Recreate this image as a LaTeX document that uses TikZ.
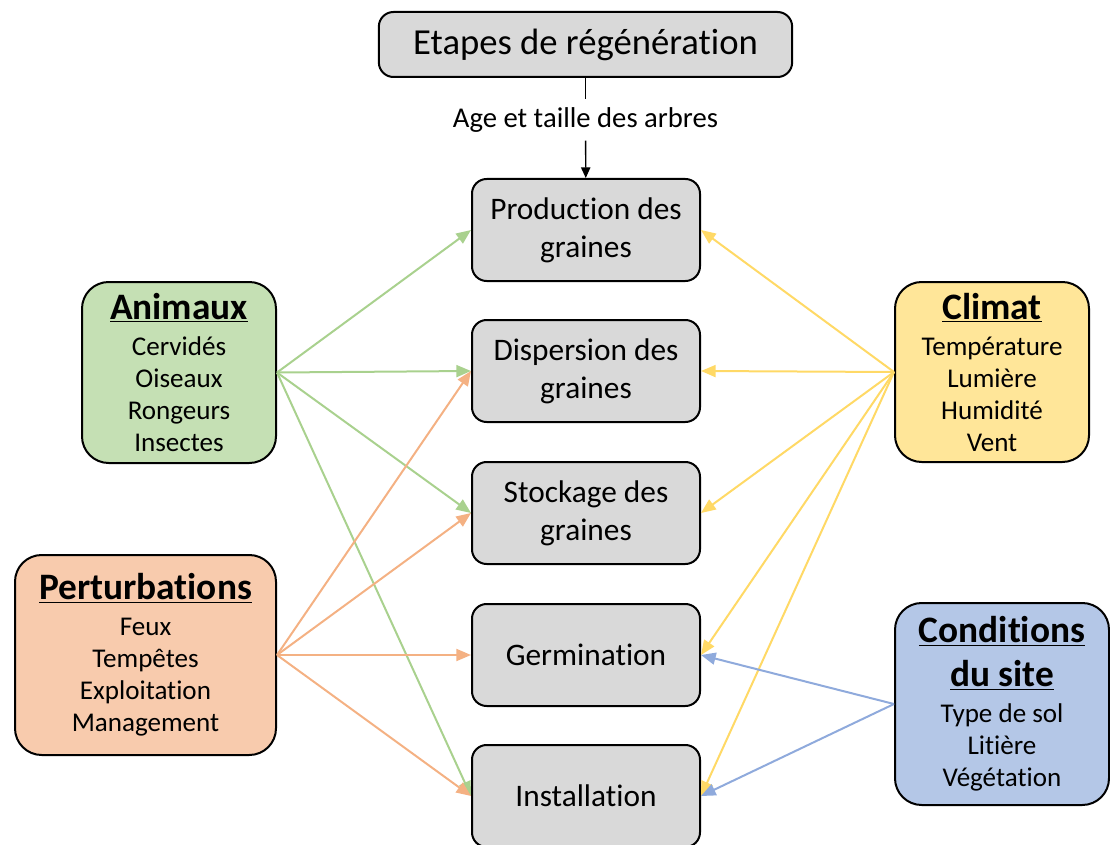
\documentclass[tikz,border=0pt]{standalone}
\usepackage{fontspec}
\setmainfont{Carlito}[Ligatures=NoCommon]
\usetikzlibrary{arrows.meta}
\tikzset{>={Triangle[length=11pt,width=9pt]}}
\definecolor{grisfond}{HTML}{D9D9D9}
\definecolor{vertfond}{HTML}{C5E0B4}
\definecolor{vertfleche}{HTML}{A9D18E}
\definecolor{orangefond}{HTML}{F8CBAD}
\definecolor{orangefleche}{HTML}{F4B183}
\definecolor{jaunefond}{HTML}{FFE699}
\definecolor{jaunefleche}{HTML}{FFD966}
\definecolor{bleufond}{HTML}{B4C7E7}
\definecolor{bleufleche}{HTML}{8FAADC}
\newcommand{\titre}[1]{{\fontsize{28}{30}\selectfont\bfseries\underline{#1}}}
\tikzset{
etape/.style={draw, line width=1.5pt, fill=grisfond, rounded corners=11pt, minimum width=171pt, minimum height=76.5pt, align=center, font=\fontsize{23.5}{28.5}\selectfont},
facteur/.style={draw, line width=1.5pt, rounded corners=20pt, align=center, font=\fontsize{20.3}{24}\selectfont}
}

\begin{document}
\begin{tikzpicture}[x=0.75pt, y=0.75pt]
\useasboundingbox (0,0) rectangle (1110,-845);

% etapes
\node[etape, minimum width=310pt, minimum height=48.75pt, font=\fontsize{27.5}{30}\selectfont] (etapes) at (585.5,-44.5) {Etapes de régénération};
\node[font=\fontsize{21.5}{24}\selectfont, inner ysep=6pt] (age) at (585.5,-120) {Age et taille des arbres};
\node[etape] (prod) at (586,-230) {Production des\\graines};
\node[etape] (disp) at (586,-371) {Dispersion des\\graines};
\node[etape] (stock) at (586,-513) {Stockage des\\graines};
\node[etape] (germ) at (586,-655) {Germination};
\node[etape] (inst) at (586,-796) {Installation};

% facteurs
\node[facteur, fill=vertfond, minimum width=145.5pt, minimum height=135.75pt] (animaux) at (179,-372.5)
{\titre{Animaux}\\[3pt] Cervidés\\ Oiseaux\\ Rongeurs\\ Insectes};
\node[facteur, fill=orangefond, minimum width=195.75pt, minimum height=150pt] (perturb) at (145.5,-655)
{\titre{Perturbations}\\[3pt] Feux\\ Tempêtes\\ Exploitation\\ Management};
\node[facteur, fill=jaunefond, minimum width=145.5pt, minimum height=135pt] (climat) at (992,-372)
{\titre{Climat}\\[3pt] Température\\ Lumière\\ Humidité\\ Vent};
\node[facteur, fill=bleufond, minimum width=160.5pt, minimum height=151.5pt] (site) at (1002,-704)
{\titre{Conditions}\\[9pt] \titre{du site}\\[3pt] Type de sol\\ Litière\\ Végétation};

\draw[line width=1pt] (etapes) -- (age);
\draw[-{Triangle[length=8pt,width=7pt]}, line width=1pt] (age) -- (prod);

\path[->, line width=1.5pt, color=vertfleche]
(animaux.east)
edge (prod.west)
edge (disp.west)
edge (stock.west)
edge (inst.west)
;
\path[->, line width=1.5pt, color=orangefleche]
(perturb.east)
edge (disp.west)
edge (stock.west)
edge (germ.west)
edge (inst.west)
;
\path[->, line width=1.5pt, color=jaunefleche]
(climat.west)
edge (prod.east)
edge (disp.east)
edge (stock.east)
edge (germ.east)
edge (inst.east)
;
\path[->, line width=1.5pt, color=bleufleche]
(site.west)
edge (germ.east)
edge (inst.east)
;
\end{tikzpicture}
\end{document}
